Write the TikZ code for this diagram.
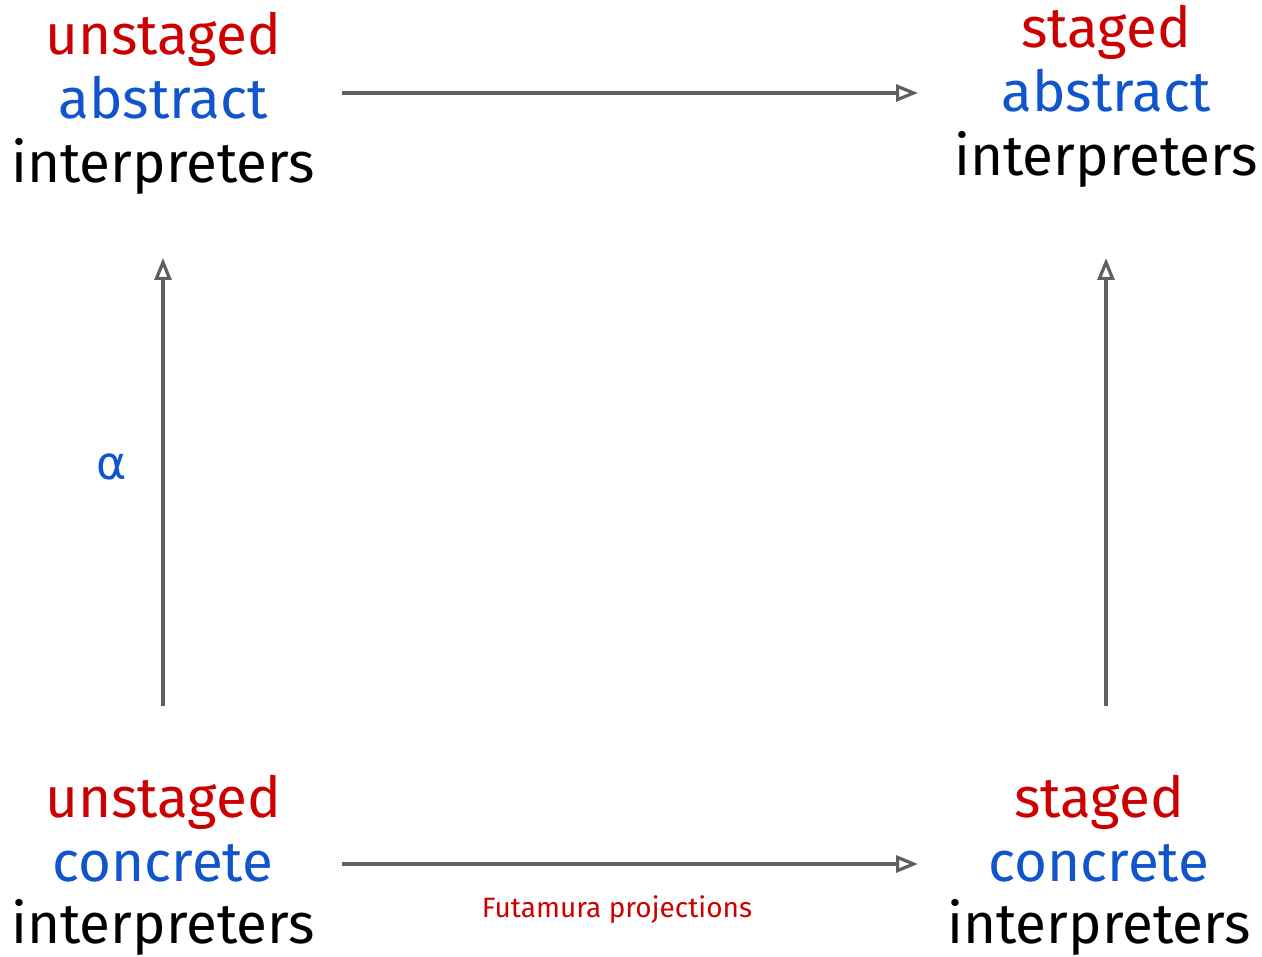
\documentclass[tikz,border=0pt]{standalone}
\usepackage{fontspec}
\setmainfont{Fira Sans}
\newfontfamily\dejavu{DejaVu Sans}
\usetikzlibrary{arrows.meta}
\definecolor{cred}{HTML}{CC0000}
\definecolor{cblue}{HTML}{1155CC}
\definecolor{cgray}{HTML}{5F5F5F}
\tikzset{
  big/.style={anchor=base, inner sep=0pt, font=\fontsize{56.5}{64}\selectfont},
  r/.style={big, text=cred},
  b/.style={big, text=cblue},
  k/.style={big, text=black},
  conn/.style={draw=cgray, line width=3.2pt, -{Triangle[open, length=22pt, width=17pt, line width=3.2pt]}},
}
\begin{document}
\begin{tikzpicture}[x=1pt,y=-1pt]
\useasboundingbox (0,0) rectangle (1262,957);
% top-left
\node[r] (ul1) at (163,55) {unstaged};
\node[b] (ul2) at (163,119) {abstract};
\node[k] (ul3) at (163,183) {interpreters};
% top-right
\node[r] (ur1) at (1106,48) {staged};
\node[b] (ur2) at (1106,112) {abstract};
\node[k] (ur3) at (1106,176) {interpreters};
% bottom-left
\node[r] (ll1) at (163,817) {unstaged};
\node[b] (ll2) at (163,881) {concrete};
\node[k] (ll3) at (163,943) {interpreters};
% bottom-right
\node[r] (lr1) at (1099,817) {staged};
\node[b] (lr2) at (1099,881) {concrete};
\node[k] (lr3) at (1099,943) {interpreters};
% arrow endpoints
\coordinate (a1s) at (342,93);  \coordinate (a1e) at (918,93);
\coordinate (a2s) at (342,864); \coordinate (a2e) at (918,864);
\coordinate (a3s) at (163,706); \coordinate (a3e) at (163,258);
\coordinate (a4s) at (1106,706); \coordinate (a4e) at (1106,258);
\draw[conn] (a1s) -- (a1e);
\draw[conn] (a2s) -- (a2e);
\draw[conn] (a3s) -- (a3e);
\draw[conn] (a4s) -- (a4e);
\node[inner sep=0pt, text=cblue, font=\dejavu\fontsize{46}{50}\selectfont] (alpha) at (112,467) {α};
\node[inner sep=0pt, anchor=base, text=cred, font=\fontsize{28}{32}\selectfont] (fut) at (617,917) {Futamura projections};
\end{tikzpicture}
\end{document}
